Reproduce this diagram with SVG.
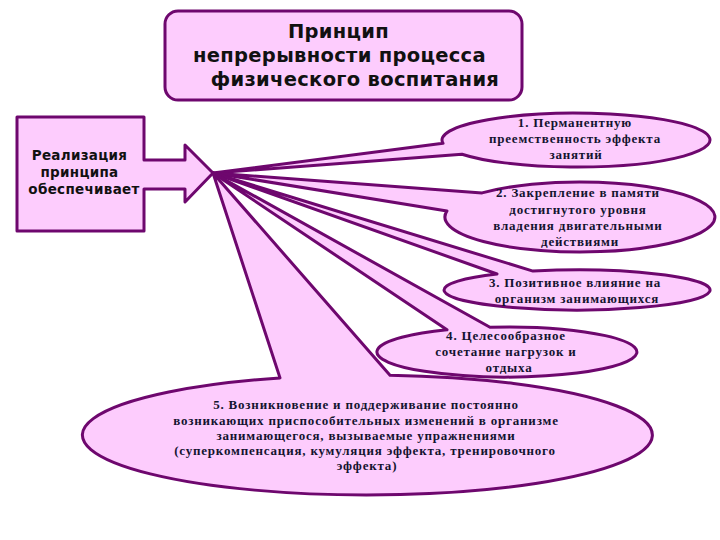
<svg xmlns="http://www.w3.org/2000/svg" width="720" height="540" viewBox="0 0 720 540">
  <style>
    .shape { fill: #fdccfd; stroke: #6e076e; stroke-width: 3; stroke-linejoin: round; }
    .sans { font-family: "DejaVu Sans", "Liberation Sans", sans-serif; font-weight: bold; fill: #111111; text-anchor: middle; }
    .serif { font-family: "Liberation Serif", "DejaVu Serif", serif; font-weight: bold; fill: #141430; text-anchor: middle; font-size: 13px; letter-spacing: 0.8px; }
  </style>
  <rect width="720" height="540" fill="#ffffff"/>

  <g id="title">
    <rect class="shape" x="165" y="11" width="357" height="89" rx="13" ry="13"/>
    <text class="sans" font-size="19.5" letter-spacing="0.3">
      <tspan x="342" y="38">Принцип</tspan>
      <tspan x="343" y="62">непрерывности процесса</tspan>
      <tspan x="355" y="86">физического воспитания</tspan>
    </text>
  </g>

  <g id="source">
    <path class="shape" d="M17,117 H144 V160 H185 V145 L213,173 L185,202 V189 H144 V231 H17 Z"/>
    <text class="sans" font-size="13.5" letter-spacing="0.3">
      <tspan x="82" y="160">Реализация</tspan>
      <tspan x="82" y="177">принципа</tspan>
      <tspan x="84" y="194">обеспечивает</tspan>
    </text>
  </g>

  <g id="connectors">
    <!-- callout tails are part of each callout shape below; all converge at the arrow tip (213,173) -->
  </g>

  <g id="item1">
    <path class="shape" d="M443.0,143.3 L213,173 L462.0,154.2 A134,27 0 1 0 443.0,143.3 Z"/>
    <text class="serif">
      <tspan x="577" y="127">1. Перманентную</tspan>
      <tspan x="577" y="143">преемственность эффекта</tspan>
      <tspan x="576" y="159">занятий</tspan>
    </text>
  </g>

  <g id="item2">
    <path class="shape" d="M482.1,192.9 L213,173 L447.0,210.9 A135,35 0 1 0 482.1,192.9 Z"/>
    <text class="serif">
      <tspan x="580" y="197">2. Закрепление в памяти</tspan>
      <tspan x="580" y="214">достигнутого уровня</tspan>
      <tspan x="580" y="230">владения двигательными</tspan>
      <tspan x="580" y="246">действиями</tspan>
    </text>
  </g>

  <g id="item3">
    <path class="shape" d="M533.0,271.1 L213,173 L497.0,274.0 A133,20 0 1 0 533.0,271.1 Z"/>
    <text class="serif">
      <tspan x="577" y="287">3. Позитивное влияние на</tspan>
      <tspan x="577" y="303">организм занимающихся</tspan>
    </text>
  </g>

  <g id="item4">
    <path class="shape" d="M490.0,327.2 L213,173 L447.0,329.8 A130,25 0 1 0 490.0,327.2 Z"/>
    <text class="serif">
      <tspan x="508" y="340">4. Целесообразное</tspan>
      <tspan x="508" y="356">сочетание нагрузок и</tspan>
      <tspan x="509" y="372">отдыха</tspan>
    </text>
  </g>

  <g id="item5">
    <path class="shape" d="M390.0,375.2 L213,173 L280.0,377.9 A285,60 0 1 0 390.0,375.2 Z"/>
    <text class="serif">
      <tspan x="368" y="409">5.  Возникновение и поддерживание постоянно</tspan>
      <tspan x="368" y="425">возникающих приспособительных изменений в  организме</tspan>
      <tspan x="368" y="440">занимающегося, вызываемые упражнениями</tspan>
      <tspan x="367" y="455">(суперкомпенсация, кумуляция эффекта, тренировочного</tspan>
      <tspan x="367" y="470">эффекта)</tspan>
    </text>
  </g>
</svg>
